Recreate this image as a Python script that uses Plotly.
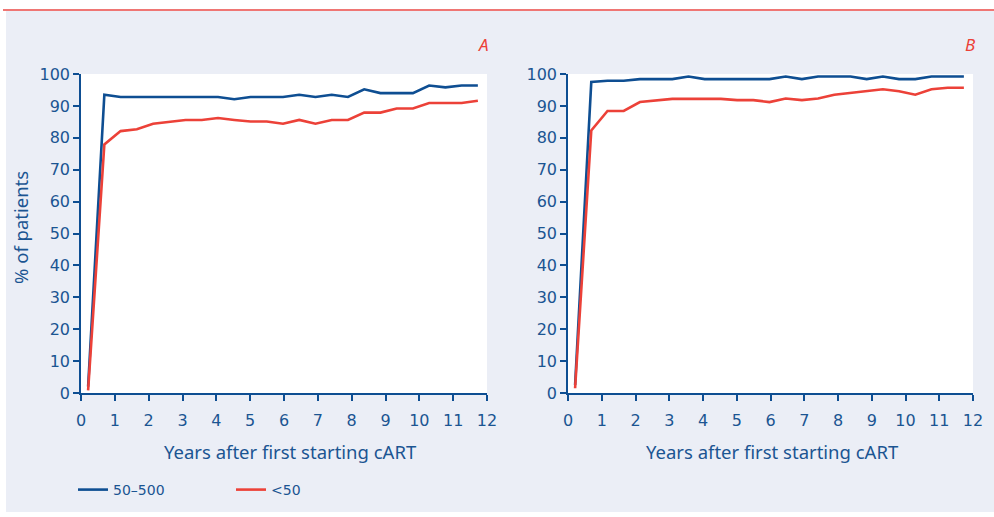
import plotly.graph_objects as go

# years after first starting cART (shared time grid)
years = [0.21, 0.69, 1.17, 1.65, 2.13, 2.61, 3.09, 3.57, 4.05, 4.53, 5.01, 5.49, 5.97,
         6.45, 6.93, 7.41, 7.89, 8.37, 8.85, 9.33, 9.81, 10.29, 10.77, 11.25, 11.73]

# panel A, % of patients
a_50_500 = [2.0, 93.5, 92.8, 92.8, 92.8, 92.8, 92.8, 92.8, 92.8, 92.1, 92.8, 92.8, 92.8,
            93.5, 92.8, 93.5, 92.8, 95.2, 94.0, 94.0, 94.0, 96.4, 95.8, 96.4, 96.4]
a_lt50 = [0.8, 77.9, 82.1, 82.7, 84.4, 85.1, 85.6, 85.6, 86.2, 85.6, 85.1, 85.1, 84.4,
          85.6, 84.4, 85.6, 85.6, 87.9, 87.9, 89.2, 89.2, 90.9, 90.9, 90.9, 91.6]

# panel B, % of patients
b_50_500 = [2.5, 97.5, 97.9, 97.9, 98.4, 98.4, 98.4, 99.2, 98.4, 98.4, 98.4, 98.4, 98.4,
            99.2, 98.4, 99.2, 99.2, 99.2, 98.4, 99.2, 98.4, 98.4, 99.2, 99.2, 99.2]
b_lt50 = [1.5, 82.3, 88.4, 88.4, 91.2, 91.8, 92.2, 92.2, 92.2, 92.2, 91.8, 91.8, 91.2,
          92.3, 91.8, 92.3, 93.5, 94.1, 94.6, 95.2, 94.6, 93.5, 95.2, 95.7, 95.7]

x_ticks = list(range(0, 13))
y_ticks = list(range(0, 101, 10))

BLUE = '#0e4e92'
RED = '#ec4138'
TEXT = '#1b5592'
BG = '#ebeef6'
TICK_FONT = 'DejaVu Sans'
TITLE_FONT = 'Noto Sans'

W, H = 994, 517

fig = go.Figure()

fig.add_trace(go.Scatter(x=years, y=a_50_500, mode='lines', name='50\u2013500',
                         line=dict(color=BLUE, width=2.6), xaxis='x', yaxis='y'))
fig.add_trace(go.Scatter(x=years, y=a_lt50, mode='lines', name='<50',
                         line=dict(color=RED, width=2.6), xaxis='x', yaxis='y'))
fig.add_trace(go.Scatter(x=years, y=b_50_500, mode='lines', showlegend=False,
                         line=dict(color=BLUE, width=2.6), xaxis='x2', yaxis='y2'))
fig.add_trace(go.Scatter(x=years, y=b_lt50, mode='lines', showlegend=False,
                         line=dict(color=RED, width=2.6), xaxis='x2', yaxis='y2'))

axis_common = dict(
	showgrid=False, zeroline=False, showline=True, linecolor=BLUE, linewidth=1.5,
	ticks='outside', ticklen=6, tickwidth=1.5, tickcolor=BLUE, automargin=False,
	tickfont=dict(family=TICK_FONT, size=16, color=TEXT),
)

y_dom = [(H - 393) / H, (H - 74) / H]


def label(text, x, y, size, color=TEXT, angle=0):
	# text placed in pixel terms, converted to paper coords
	return dict(text=text, x=x / W, y=(H - y) / H, xref='paper', yref='paper',
				xanchor='center', yanchor='middle', showarrow=False, textangle=angle,
				font=dict(family=TITLE_FONT, size=size, color=color))


fig.update_layout(
	width=W, height=H,
	margin=dict(l=0, r=0, t=0, b=0, autoexpand=False),
	paper_bgcolor=BG,
	plot_bgcolor='white',
	font=dict(family=TITLE_FONT, color=TEXT),
	xaxis=dict(axis_common, domain=[81 / W, 487 / W], range=[0, 12], tickvals=x_ticks,
			   anchor='y', ticklabelstandoff=6),
	yaxis=dict(axis_common, domain=y_dom, range=[0, 100], tickvals=y_ticks, anchor='x'),
	xaxis2=dict(axis_common, domain=[568 / W, 973 / W], range=[0, 12], tickvals=x_ticks,
				anchor='y2', ticklabelstandoff=6),
	yaxis2=dict(axis_common, domain=y_dom, range=[0, 100], tickvals=y_ticks, anchor='x2'),
	showlegend=True,
	legend=dict(
		orientation='h', x=73 / W, y=(H - 490) / H, xanchor='left', yanchor='middle',
		bgcolor='rgba(0,0,0,0)', font=dict(family=TICK_FONT, size=14, color=TEXT),
		entrywidth=113, entrywidthmode='pixels',
	),
	shapes=[
		dict(type='rect', xref='paper', yref='paper', x0=0, x1=1, y0=(H - 10) / H, y1=1,
			 fillcolor='white', line=dict(width=0), layer='below'),
		dict(type='rect', xref='paper', yref='paper', x0=0, x1=6 / W, y0=0, y1=1,
			 fillcolor='white', line=dict(width=0), layer='below'),
		dict(type='rect', xref='paper', yref='paper', x0=0, x1=1, y0=0, y1=5 / H,
			 fillcolor='white', line=dict(width=0), layer='below'),
		dict(type='line', xref='paper', yref='paper', x0=3 / W, x1=1, y0=(H - 10) / H, y1=(H - 10) / H,
			 line=dict(color='#ef7674', width=2)),
	],
	annotations=[
		label('<i>A</i>', 483, 44, 17, RED),
		label('<i>B</i>', 970, 44, 17, RED),
		label('Years after first starting cART', 290, 451, 18.5),
		label('Years after first starting cART', 772, 451, 18.5),
		label('% of patients', 21, 228, 18.5, angle=-90),
	],
)

fig.write_html("out.html", config={'displayModeBar': False},
			   post_script="document.body.style.margin='0';")
